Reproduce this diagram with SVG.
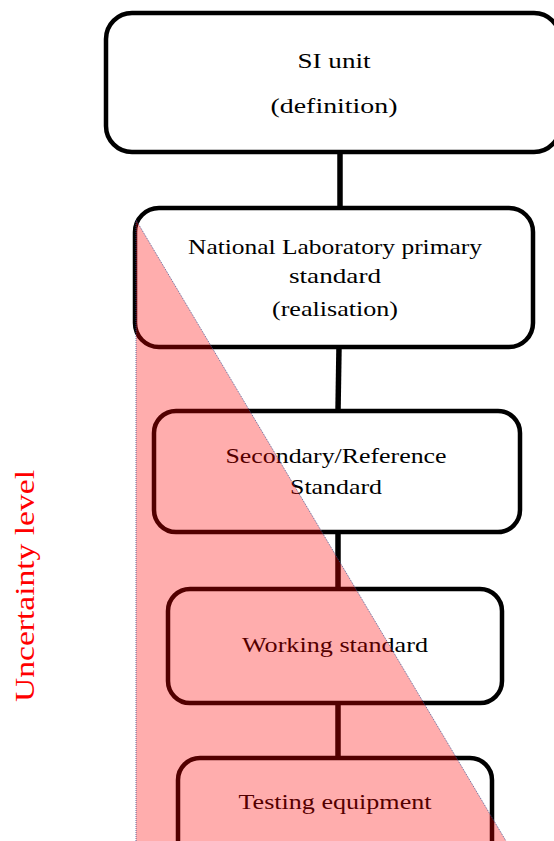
<svg xmlns="http://www.w3.org/2000/svg" width="554" height="841" viewBox="0 0 554 841">
  <style>
    .box { fill: #ffffff; stroke: #000000; stroke-width: 4.5; }
    .lbl { font-family: "Liberation Serif", "DejaVu Serif", serif; font-size: 22px; fill: #000000; text-anchor: middle; }
    .link { stroke: #000000; stroke-width: 5.5; fill: none; }
  </style>
  <rect width="554" height="841" fill="#ffffff"/>

  <!-- connectors -->
  <g id="connectors">
    <line class="link" x1="340" y1="152" x2="340" y2="208"/>
    <line class="link" x1="339" y1="347" x2="338" y2="411"/>
    <line class="link" x1="338" y1="532" x2="338" y2="589"/>
    <line class="link" x1="338" y1="703" x2="338" y2="758"/>
  </g>

  <!-- hierarchy nodes -->
  <g id="si-unit">
    <rect class="box" x="106" y="13" width="454" height="139" rx="26"/>
    <text class="lbl" x="334" y="68" textLength="73" lengthAdjust="spacingAndGlyphs">SI unit</text>
    <text class="lbl" x="334" y="113" textLength="127" lengthAdjust="spacingAndGlyphs">(definition)</text>
  </g>
  <g id="primary-standard">
    <rect class="box" x="135" y="208" width="398" height="139" rx="24"/>
    <text class="lbl" x="335" y="254" textLength="294" lengthAdjust="spacingAndGlyphs">National Laboratory primary</text>
    <text class="lbl" x="335" y="283" textLength="92" lengthAdjust="spacingAndGlyphs">standard</text>
    <text class="lbl" x="335" y="316" textLength="126" lengthAdjust="spacingAndGlyphs">(realisation)</text>
  </g>
  <g id="secondary-standard">
    <rect class="box" x="154" y="411" width="366" height="121" rx="22"/>
    <text class="lbl" x="336" y="463" textLength="221" lengthAdjust="spacingAndGlyphs">Secondary/Reference</text>
    <text class="lbl" x="336" y="494" textLength="92" lengthAdjust="spacingAndGlyphs">Standard</text>
  </g>
  <g id="working-standard">
    <rect class="box" x="168" y="589" width="334" height="114" rx="22"/>
    <text class="lbl" x="335" y="652" textLength="186" lengthAdjust="spacingAndGlyphs">Working standard</text>
  </g>
  <g id="testing-equipment">
    <rect class="box" x="178" y="758" width="314" height="110" rx="22"/>
    <text class="lbl" x="335" y="809" textLength="193" lengthAdjust="spacingAndGlyphs">Testing equipment</text>
  </g>

  <!-- uncertainty wedge laid over the chain -->
  <g id="uncertainty-wedge">
    <polygon points="136,220 506,841 136,841" fill="#ff0000" fill-opacity="0.32"/>
    <polyline points="136,841 136,220 506,841" fill="none" stroke="#3a4a8a" stroke-width="0.8" stroke-dasharray="1,1"/>
  </g>

  <text x="0" y="0" transform="translate(34,586) rotate(-90)" font-family="Liberation Serif, DejaVu Serif, serif" font-size="28" fill="#ff0000" text-anchor="middle" textLength="232" lengthAdjust="spacingAndGlyphs">Uncertainty level</text>
</svg>
